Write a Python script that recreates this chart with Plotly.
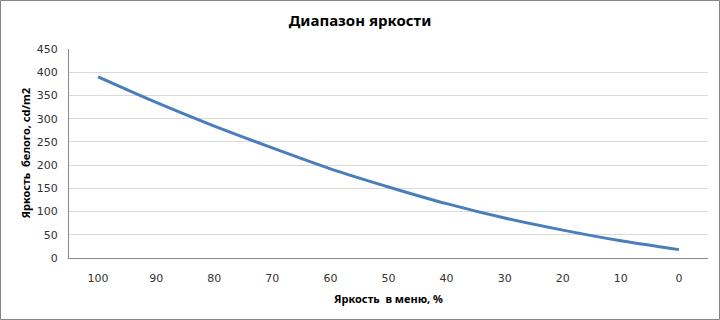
import plotly.graph_objects as go

categories = ["100", "90", "80", "70", "60", "50", "40", "30", "20", "10", "0"]
luminance = [390, 335, 284, 237, 192, 153, 117, 86, 60, 37, 18]
y_ticks = [0, 50, 100, 150, 200, 250, 300, 350, 400, 450]

title_text = "Диапазон яркости"
x_title = "Яркость\u00a0 в меню, %"
y_title = "Яркость\u00a0 белого, cd/m2"

W, H = 720, 320
ML, MR, MT, MB = 69, 12, 49, 62
PW, PH = W - ML - MR, H - MT - MB

fig = go.Figure()
fig.add_trace(go.Scatter(
    x=categories, y=luminance, mode="lines",
    line=dict(color="#4A7EBB", width=3, shape="spline", smoothing=0.6),
    hoverinfo="x+y", showlegend=False,
))

fig.update_layout(
    width=W, height=H,
    margin=dict(l=ML, r=MR, t=MT, b=MB, autoexpand=False),
    paper_bgcolor="white", plot_bgcolor="white",
    font=dict(family="DejaVu Sans", size=11, color="#333333"),
    title=dict(text=title_text, x=0.5, xref="container", xanchor="center",
               y=1 - 21 / H, yref="container", yanchor="middle",
               font=dict(family="Noto Sans", size=15, color="#000000", weight="bold")),
    xaxis=dict(type="category", range=[-0.5, 10.5], showgrid=False,
               showline=True, linecolor="#868686", linewidth=1,
               ticks="", ticklabelstandoff=10, tickfont=dict(size=11, color="#333333"),
               fixedrange=True),
    yaxis=dict(range=[0, 450], tickvals=y_ticks, showgrid=True, gridcolor="#D9D9D9",
               gridwidth=1, zeroline=False, showline=True, linecolor="#868686",
               linewidth=1, ticks="", ticklabelstandoff=8,
               tickfont=dict(size=11, color="#333333"), fixedrange=True),
    shapes=[dict(type="rect", xref="paper", yref="paper",
                 x0=(0.5 - ML) / PW, x1=(W - 0.5 - ML) / PW,
                 y0=(MT + PH - (H - 0.5)) / PH, y1=(MT + PH - 0.5) / PH,
                 line=dict(color="#868686", width=1), fillcolor="rgba(0,0,0,0)",
                 layer="above")],
    annotations=[
        dict(text=x_title, xref="paper", yref="paper", x=0.5,
             y=(MT + PH - 298) / PH, xanchor="center", yanchor="middle",
             showarrow=False,
             font=dict(family="Noto Sans", size=11, color="#000000", weight="bold")),
        dict(text=y_title, xref="paper", yref="paper", x=(25 - ML) / PW,
             y=0.5, xanchor="center", yanchor="middle", textangle=-90,
             showarrow=False,
             font=dict(family="Noto Sans", size=11, color="#000000", weight="bold")),
    ],
)

fig.write_html("out.html")
